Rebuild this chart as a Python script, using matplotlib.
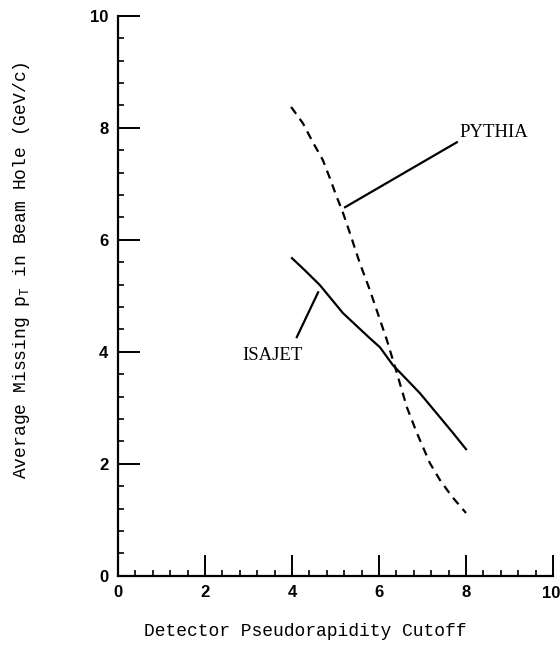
import matplotlib
matplotlib.use("Agg")
import matplotlib.pyplot as plt
import numpy as np

# Data
pythia_x = [3.98, 4.25, 4.48, 4.71, 4.87, 5.03, 5.15, 5.33, 5.56, 5.79, 6.18, 6.41, 6.64, 6.87, 7.17, 7.40, 7.68, 8.00]
pythia_y = [8.37, 8.08, 7.74, 7.42, 7.10, 6.76, 6.53, 6.12, 5.58, 5.10, 4.21, 3.62, 3.01, 2.55, 2.01, 1.71, 1.41, 1.12]
isajet_x = [4.00, 4.30, 4.64, 5.17, 5.79, 6.02, 6.32, 6.94, 7.70, 8.00]
isajet_y = [5.67, 5.45, 5.19, 4.69, 4.24, 4.08, 3.76, 3.26, 2.55, 2.26]
xticks = [0, 2, 4, 6, 8, 10]
xticklabels = ["0", "2", "4", "6", "8", ""]
yticks = [0, 2, 4, 6, 8, 10]

W, H = 560, 647
fig = plt.figure(figsize=(W / 100, H / 100), dpi=100)
x0, x1 = 118, 553
y0, y1 = 575.7, 15.7
ax = fig.add_axes([x0 / W, 1 - y0 / H, (x1 - x0) / W, (y0 - y1) / H])

ax.plot(pythia_x, pythia_y, color="black", lw=1.6, dashes=(3.8, 2.8))
ax.plot(isajet_x, isajet_y, color="black", lw=1.6)

# pointer lines
ax.plot([5.22, 7.79], [6.58, 7.74], color="black", lw=1.6)
ax.plot([4.60, 4.11], [5.06, 4.26], color="black", lw=1.6)
ax.text(7.86, 7.92, "PYTHIA", family="Liberation Serif", fontsize=13.5, va="center", ha="left")
ax.text(4.25, 3.94, "ISAJET", family="Liberation Serif", fontsize=13.5, va="center", ha="right")

ax.set_xlim(0, 10)
ax.set_ylim(0, 10)
for s in ["top", "right"]:
    ax.spines[s].set_visible(False)
for s in ["left", "bottom"]:
    ax.spines[s].set_linewidth(1.6)

ax.set_xticks(xticks)
ax.set_xticklabels(xticklabels)
ax.set_yticks(yticks)
ax.set_xticks(np.arange(0, 10.01, 0.4), minor=True)
ax.set_yticks(np.arange(0, 10.01, 0.4), minor=True)
ax.tick_params(which="major", direction="in", length=15, width=1.4, pad=7)
ax.tick_params(which="minor", direction="in", length=4.5, width=1.2)
ax.tick_params(axis="y", which="major", length=16)
for lab in ax.get_xticklabels() + ax.get_yticklabels():
    lab.set_family("Liberation Sans")
    lab.set_fontweight("bold")
    lab.set_fontsize(12)
# last x tick label, kept inside the figure edge
ax.text(xticks[-1], 0, "10", transform=ax.get_xaxis_transform(), family="Liberation Sans",
        fontweight="bold", fontsize=12, ha="right", va="top", clip_on=False,
        position=(xticks[-1] + 0.16, -0.018))

fig.text(305 / W, 1 - 631 / H, "Detector Pseudorapidity Cutoff", family="Liberation Mono",
         fontsize=13, ha="center", va="center")
fig.text(22 / W, 1 - 270 / H, "Average Missing p$_{\\mathregular{T}}$ in Beam Hole (GeV/c)",
         family="Liberation Mono", fontsize=13, ha="center", va="center", rotation=90)

fig.savefig("out.png", dpi=100)
